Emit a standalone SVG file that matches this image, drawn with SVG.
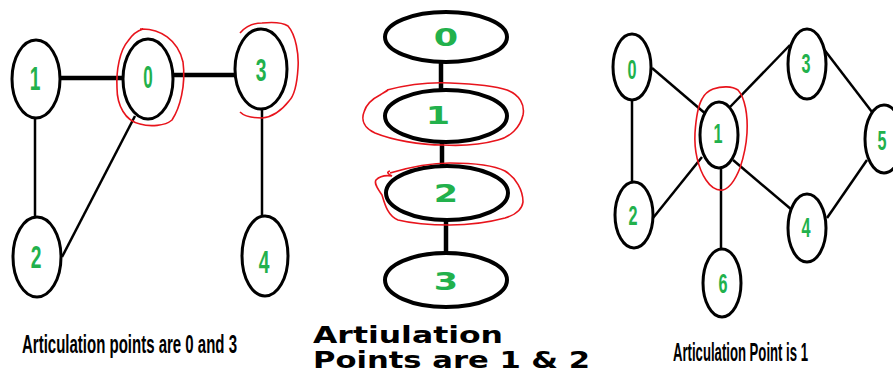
<svg xmlns="http://www.w3.org/2000/svg" width="893" height="373" viewBox="0 0 893 373">
<style>
.n{fill:#fff;stroke:#000;stroke-width:3}
.nm{fill:#fff;stroke:#000;stroke-width:4}
.e{stroke:#000;stroke-width:2.5;fill:none}
.et{stroke:#000;stroke-width:4.5;fill:none}
.lbl{font-family:"Liberation Sans",Arial,sans-serif;font-weight:bold;fill:#22b14c;text-anchor:middle}
.lm{font-family:"DejaVu Sans",Verdana,sans-serif;font-weight:bold;fill:#22b14c;text-anchor:middle;font-size:25px}
.red{fill:none;stroke:#e8141c;stroke-width:1.6}
.cap{font-family:"Liberation Sans",Arial,sans-serif;font-weight:bold;fill:#000}
.capm{font-family:"DejaVu Sans",Verdana,sans-serif;font-weight:bold;fill:#000;font-size:23px}
</style>
<rect width="893" height="373" fill="#fff"/>
<g id="connectors">
<line class="et" x1="60" y1="78" x2="123" y2="78"/>
<line class="et" x1="173" y1="75" x2="235" y2="75"/>
<line class="e" x1="35" y1="118" x2="35" y2="218"/>
<line class="e" x1="135" y1="116" x2="62" y2="257"/>
<line class="e" x1="262" y1="110" x2="262" y2="216"/>
<line class="et" x1="441" y1="60" x2="441" y2="92"/>
<line class="et" x1="442" y1="140" x2="442" y2="168"/>
<line class="et" x1="446" y1="218" x2="446" y2="255"/>
<line class="e" x1="632" y1="100" x2="632" y2="183"/>
<line class="e" x1="652" y1="68" x2="707" y2="115"/>
<line class="e" x1="653" y1="218" x2="702" y2="157"/>
<line class="e" x1="730" y1="107" x2="790" y2="45"/>
<line class="e" x1="823" y1="48" x2="872" y2="112"/>
<line class="e" x1="733" y1="160" x2="792" y2="210"/>
<line class="e" x1="827" y1="218" x2="867" y2="160"/>
<line class="e" x1="721" y1="167" x2="721" y2="250"/>
</g>
<g id="L1"><ellipse class="n" cx="36" cy="79" rx="24" ry="39"/><text class="lbl" font-size="33" transform="translate(35 90) scale(0.58 1)">1</text></g>
<g id="L0"><ellipse class="n" cx="148" cy="79" rx="25" ry="40"/><text class="lbl" font-size="31" transform="translate(148 88) scale(0.55 1)">0</text></g>
<g id="L3"><ellipse class="n" cx="261" cy="69" rx="26" ry="40"/><text class="lbl" font-size="31" transform="translate(261 81) scale(0.62 1)">3</text></g>
<g id="L2"><ellipse class="n" cx="37" cy="257" rx="24" ry="40"/><text class="lbl" font-size="31" transform="translate(36 268) scale(0.62 1)">2</text></g>
<g id="L4"><ellipse class="n" cx="265" cy="256" rx="23" ry="40"/><text class="lbl" font-size="31" transform="translate(264 273) scale(0.62 1)">4</text></g>
<g id="M0"><ellipse class="nm" cx="446" cy="37" rx="61" ry="25"/><text class="lm" transform="translate(446 46) scale(1.4 1)">0</text></g>
<g id="M1"><ellipse class="nm" cx="446" cy="116" rx="61" ry="26"/><text class="lm" transform="translate(438 124) scale(1.4 1)">1</text></g>
<g id="M2"><ellipse class="nm" cx="447" cy="193" rx="61" ry="27"/><text class="lm" transform="translate(446 202) scale(1.4 1)">2</text></g>
<g id="M3"><ellipse class="nm" cx="446" cy="280" rx="61" ry="27"/><text class="lm" transform="translate(446 290) scale(1.4 1)">3</text></g>
<g id="R0"><ellipse class="n" cx="632" cy="67" rx="19" ry="33"/><text class="lbl" font-size="27" transform="translate(632 79) scale(0.6 1)">0</text></g>
<g id="R2"><ellipse class="n" cx="634" cy="215" rx="19" ry="33"/><text class="lbl" font-size="27" transform="translate(633 225) scale(0.6 1)">2</text></g>
<g id="R1"><ellipse class="n" cx="719" cy="135" rx="19" ry="33"/><text class="lbl" font-size="27" transform="translate(718 143) scale(0.6 1)">1</text></g>
<g id="R3"><ellipse class="n" cx="807" cy="64" rx="19" ry="35"/><text class="lbl" font-size="27" transform="translate(806 73) scale(0.6 1)">3</text></g>
<g id="R5"><ellipse class="n" cx="884" cy="139" rx="19" ry="34"/><text class="lbl" font-size="27" transform="translate(882 150) scale(0.6 1)">5</text></g>
<g id="R4"><ellipse class="n" cx="807" cy="228" rx="19" ry="34"/><text class="lbl" font-size="27" transform="translate(806 237) scale(0.6 1)">4</text></g>
<g id="R6"><ellipse class="n" cx="722" cy="283" rx="19" ry="34"/><text class="lbl" font-size="27" transform="translate(723 293) scale(0.6 1)">6</text></g>
<g id="highlights">
<path class="red" d="M140 29 C160 28 178 40 183 62 C186 85 180 108 172 120 C165 126 150 127 140 124 C125 121 117 105 117 88 C116 70 120 50 128 41 C132 35 136 31 143 29"/>
<path class="red" d="M240 33 C246 26 254 23 262 23 C272 22 282 22 288 26 C296 35 299 55 298 68 C297 85 294 96 289 101 C282 110 272 117 262 118 C252 118 244 116 240 112"/>
<path class="red" d="M387 90 C410 84 430 82 450 83 C475 84 495 86 507 90 C520 95 525 105 523 115 C520 128 510 137 498 140 C480 145 460 146 443 145 C420 145 392 140 375 133 C364 128 361 120 364 112 C366 105 370 100 380 95 C383 93 385 92 388 90"/>
<path class="red" d="M390 173 C410 167 430 163 450 163 C475 163 495 166 505 171 C516 178 523 190 523 202 C522 210 515 215 505 218 C490 222 470 225 450 225 C430 225 410 223 398 220 C388 216 385 205 382 195 C377 188 374 183 376 180 C380 176 386 175 392 176 C388 174 386 172 390 171"/>
<path class="red" d="M713 89 C722 86 732 86 738 90 C745 98 748 115 747 133 C746 150 742 162 740 168 C736 178 730 188 723 190 C716 191 710 186 706 180 C698 168 694 150 695 133 C696 118 698 106 702 99 C705 93 708 91 713 89"/>
</g>
<g id="captions">
<text class="cap" font-size="26" transform="translate(22 353) scale(0.5 1)" textLength="430" lengthAdjust="spacingAndGlyphs">Articulation points are 0 and 3</text>
<text class="capm" x="313" y="343" textLength="190" lengthAdjust="spacingAndGlyphs">Artiulation</text>
<text class="capm" x="313" y="368" textLength="277" lengthAdjust="spacingAndGlyphs">Points are 1 &amp; 2</text>
<text class="cap" font-size="25" transform="translate(673 361) scale(0.5 1)" textLength="270" lengthAdjust="spacingAndGlyphs">Articulation Point is 1</text>
</g>
</svg>
